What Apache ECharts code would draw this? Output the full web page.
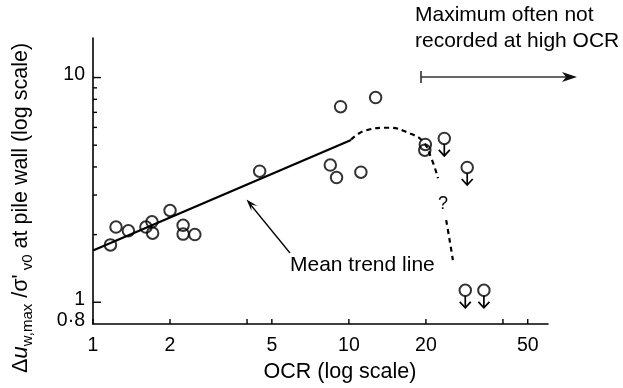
<!DOCTYPE html>
<html><head><meta charset="utf-8">
<script src="https://cdn.jsdelivr.net/npm/echarts@6/dist/echarts.min.js"></script>
<style>html,body{margin:0;padding:0;background:#fff}#c{width:623px;height:388px}</style>
</head><body><div id="c"></div>
<script>
// measured points (open circles)
const ocr   = [1.17, 1.23, 1.375, 1.61, 1.70, 1.71, 2.0, 2.25, 2.25, 2.5, 4.48, 8.46, 8.95, 9.28, 11.14, 12.72, 19.9, 19.8];
const ratio = [1.80, 2.16, 2.08, 2.16, 2.28, 2.03, 2.56, 2.20, 2.01, 2.0, 3.83, 4.08, 3.59, 7.42, 3.79, 8.15, 5.04, 4.75];
// points where maximum was not recorded (circle with down arrow)
const ocrLow   = [23.6, 29.0, 28.5, 33.7];
const ratioLow = [5.36, 3.98, 1.13, 1.13];
// mean trend line
const trendX = [1, 10.2];
const trendY = [1.70, 5.27];
// speculative dashed continuation
const dashX1 = [10.2, 11.7, 14.2, 17.3, 19.5, 21.0, 22.3];
const dashY1 = [5.3, 5.83, 5.98, 5.64, 5.18, 4.37, 3.56];
const dashX2 = [24.0, 24.7, 25.5];
const dashY2 = [2.32, 1.92, 1.54];
// axes
const xTicks = [1, 2, 4, 5, 10, 20, 40, 50];
const xTickLabels = ['1', '2', '', '5', '10', '20', '', '50'];
const yMajorTicks = [1, 10];
const yMinorTicks = [2, 3, 4, 5, 6, 7, 8, 9];
const yLabelValues = [0.8, 1, 10];
const yLabelTexts = ['0·8', '1', '10'];
const xMin = 1, xMax = 60, yMin = 0.8, yMax = 15;

const FONT = 'Liberation Sans, Arial, Helvetica, sans-serif';
const zip = (a, b) => a.map((v, i) => [v, b[i]]);

const chart = echarts.init(document.getElementById('c'));
const tickFont = 19.5;

const option = {
  animation: false,
  backgroundColor: '#fff',
  grid: {left: 93, right: 75, top: 38, bottom: 64},
  xAxis: {
    type: 'log', logBase: 10, min: xMin, max: xMax,
    axisLine: {lineStyle: {color: '#000', width: 1.6}},
    axisTick: {show: false}, axisLabel: {show: false}, splitLine: {show: false}, minorTick: {show: false}
  },
  yAxis: {
    type: 'log', logBase: 10, min: yMin, max: yMax,
    axisLine: {lineStyle: {color: '#000', width: 1.6}},
    axisTick: {show: false}, axisLabel: {show: false}, splitLine: {show: false}, minorTick: {show: false}
  },
  series: [
    {
      type: 'custom', name: 'xticks', silent: true, clip: false,
      data: xTicks.map((v, i) => [v, yMin, i]),
      renderItem(params, api) {
        const p = api.coord([api.value(0), yMin]);
        const lbl = xTickLabels[api.value(2)];
        return {type: 'group', children: [
          {type: 'line', shape: {x1: p[0], y1: p[1], x2: p[0], y2: p[1] - 5}, style: {stroke: '#000', lineWidth: 1.4}},
          {type: 'text', x: p[0], y: p[1] + 22, style: {text: lbl, font: tickFont + 'px ' + FONT, fill: '#000', align: 'center', verticalAlign: 'middle'}}
        ]};
      }
    },
    {
      type: 'custom', name: 'yticks', silent: true, clip: false,
      data: yMajorTicks.map(v => [xMin, v, 8]).concat(yMinorTicks.map(v => [xMin, v, 4])),
      renderItem(params, api) {
        const p = api.coord([xMin, api.value(1)]);
        return {type: 'line', shape: {x1: p[0], y1: p[1], x2: p[0] + api.value(2), y2: p[1]}, style: {stroke: '#000', lineWidth: 1.4}};
      }
    },
    {
      type: 'custom', name: 'ylabels', silent: true, clip: false,
      data: yLabelValues.map((v, i) => [xMin, v, i]),
      renderItem(params, api) {
        const p = api.coord([xMin, api.value(1)]);
        return {type: 'text', x: p[0] - 8, y: p[1] - 3, style: {text: yLabelTexts[api.value(2)], font: tickFont + 'px ' + FONT, fill: '#000', align: 'right', verticalAlign: 'middle'}};
      }
    },
    {
      type: 'line', data: zip(trendX, trendY), showSymbol: false, silent: true,
      lineStyle: {color: '#000', width: 2.2}
    },
    {
      type: 'line', data: zip(dashX1, dashY1), showSymbol: false, silent: true, smooth: 0.5,
      lineStyle: {color: '#000', width: 2.2, type: [5, 4]}
    },
    {
      type: 'line', data: zip(dashX2, dashY2), showSymbol: false, silent: true, smooth: 0.3,
      lineStyle: {color: '#000', width: 2.2, type: [5, 4]}
    },
    {
      type: 'scatter', data: zip(ocr, ratio).concat(zip(ocrLow, ratioLow)), symbol: 'circle', symbolSize: 11.5, silent: true,
      itemStyle: {color: 'rgba(255,255,255,0)', borderColor: '#000', borderWidth: 2}, z: 5
    },
    {
      type: 'custom', name: 'downArrows', silent: true, clip: false, z: 5,
      data: zip(ocrLow, ratioLow),
      renderItem(params, api) {
        const p = api.coord([api.value(0), api.value(1)]);
        const x = p[0], y = p[1];
        return {type: 'group', children: [
          {type: 'line', shape: {x1: x, y1: y + 5.5, x2: x, y2: y + 17.5}, style: {stroke: '#000', lineWidth: 1.7}},
          {type: 'polyline', shape: {points: [[x - 5.5, y + 11.5], [x, y + 17.5], [x + 5.5, y + 11.5]]}, style: {stroke: '#000', lineWidth: 1.7, fill: null}}
        ]};
      }
    }
  ],
  graphic: [
    {type: 'text', left: 415, top: 5, style: {text: 'Maximum often not', font: '21px ' + FONT, fill: '#000'}},
    {type: 'text', left: 415, top: 31, style: {text: 'recorded at high OCR', font: '21px ' + FONT, fill: '#000'}},
    {type: 'line', shape: {x1: 421, y1: 77, x2: 568, y2: 77}, style: {stroke: '#333', lineWidth: 1.6}},
    {type: 'line', shape: {x1: 421, y1: 71, x2: 421, y2: 83}, style: {stroke: '#333', lineWidth: 1.6}},
    {type: 'polygon', shape: {points: [[577, 77], [562, 72], [566, 77], [562, 82]]}, style: {fill: '#111'}},
    {type: 'text', x: 290, y: 265, style: {text: 'Mean trend line', font: '21px ' + FONT, fill: '#000', verticalAlign: 'middle'}},
    {type: 'line', shape: {x1: 290, y1: 253, x2: 250, y2: 204}, style: {stroke: '#000', lineWidth: 1.3}},
    {type: 'polygon', shape: {points: [[246.5, 199.5], [257.5, 206], [251, 204.5], [251.5, 211]]}, style: {fill: '#000'}},
    {type: 'text', x: 443, y: 204, style: {text: '?', font: '18px ' + FONT, fill: '#000', align: 'center', verticalAlign: 'middle'}},
    {type: 'text', x: 340, y: 372, style: {text: 'OCR (log scale)', font: '21.5px ' + FONT, fill: '#000', align: 'center', verticalAlign: 'middle'}},
    {
      type: 'text', x: 21, y: 208, rotation: Math.PI / 2,
      style: {
        text: 'Δ{it|u}{sub|w,max} /σ\'{sub| v0} at pile wall (log scale)',
        font: '21.5px ' + FONT, fill: '#000', align: 'center', verticalAlign: 'middle',
        rich: {
          it: {fontStyle: 'italic', fontSize: 22.5, fontFamily: FONT},
          sub: {fontSize: 15, fontFamily: FONT, padding: [13, 0, 0, 0]}
        }
      }
    }
  ]
};
chart.setOption(option);
</script>
</body></html>
